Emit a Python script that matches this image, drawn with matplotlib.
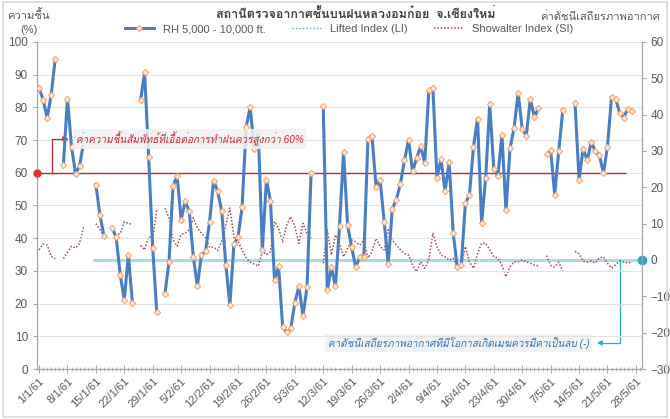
import numpy as np
import matplotlib
matplotlib.use('Agg')
import matplotlib.pyplot as plt
from matplotlib import font_manager
from fontTools.ttLib import TTFont

# daily values 1/1/61 .. 29/5/61, None = no sounding
rh = [86, 82.4, 76.8, 83.9, 94.9, None, 62.5, 82.7, 67.9, 59.7,
      62.2, 69.5, None, None, 56.4, 47, 40.7, None, 43.1, 40.3,
      28.8, 21.2, 35, 20.2, None, 82.2, 90.7, 64.7, 37, 17.3,
      None, 22.9, 32.6, 55.9, 59.1, 45.7, 51.3, 48.2, 34.3, 25.3,
      35, 36, 45, 57.6, 54.3, 48.2, 31.9, 19.5, 38.2, 40.3,
      49.4, 73.9, 80.1, 67.3, 72.4, 36.3, 57.9, 51.3, 27.1, 31.4,
      12.8, 11.2, 12.5, 20.2, 25.3, 16.3, 25, 59.9, None, None,
      80.3, 24.1, 31.1, 25.3, 43.6, 66.3, 43.9, 37.2, 31.1, 34.3,
      34.4, 70.4, 71.4, 55.7, 57.9, 45.1, 32.1, 48.9, 51.8, 56.6,
      63.8, 70.1, 60.4, 64.5, 68.1, 63, 85.2, 85.9, 58.4, 64.2,
      54.3, 63.3, 41.6, 31.1, 31.8, 50.7, 53.2, 68, 76.6, 44.6,
      58.4, 81.1, 61.2, 58.9, 71.5, 48.5, 67.6, 73.7, 84.5, 73.4,
      71.4, 82.6, 77, 79.8, None, 65.6, 66.9, 53.3, 66.7, 79.3,
      None, None, 81.3, 57.9, 67.4, 63.8, 69.4, 66.6, 65.4, 59.9,
      68, 83.2, 82.7, 78.3, 76.9, 79.6, 79, None, None]

si = [2.8, 4.4, 4.1, 1.0, 0.3, None, 0.4, 2.1, 3.8, 3.3,
      4.6, 9.2, None, None, 10, 8.4, 6.6, None, 8.7, 6.8,
      7.3, 10.5, 10.1, 9.8, None, 4, 2.8, 6.4, 6, 13.8,
      None, 14.3, 11.6, 5.6, 3.8, 7, 7.4, 8.3, 11.6, 8.8,
      7.4, 6.1, 3.5, 3.5, 2.6, 5.2, 9.7, 14.3, 6.3, 5.2,
      2.8, 0.6, -0.6, -1.1, -1.7, 2.4, 1.5, 2.3, 10.6, 8.7,
      5, 9.6, 11.9, 9.2, 4.6, 10.1, 7.3, 6, None, None,
      -0.9, 8.3, 1.4, 6.9, 4.6, 0.9, 3.2, 5.5, 5, 4.1,
      5.5, 0.5, 2.3, 6, 3.7, 2.8, 8.3, 5.5, 4.1, 2.8,
      1.8, 1.4, -1.4, -3.2, -0.5, -2.3, 0, 7.3, 3.7, 1.4,
      0.9, 0, 0.5, -1.8, -1.4, 3.7, -0.5, -2.3, 1.8, 4.6,
      4.6, 2.8, 0.9, 0.5, -1.4, -4.6, -1.8, -0.5, -0.5, 0,
      -0.5, -0.9, -1.4, -1.6, None, 1.2, -1.5, -1.9, -0.6, -3.1,
      None, None, 2.4, 1.7, -0.3, -0.6, -0.3, -0.8, 0.6, 0.8,
      -0.9, -2.2, -1.3, -0.3, -0.5, -0.9, -0.5, None, None]

li = []  # no LI values shown on the chart

tick_labels = ['1/1/61', '8/1/61', '15/1/61', '22/1/61', '29/1/61', '5/2/61',
               '12/2/61', '19/2/61', '26/2/61', '5/3/61', '12/3/61', '19/3/61',
               '26/3/61', '2/4/61', '9/4/61', '16/4/61', '23/4/61', '30/4/61',
               '7/5/61', '14/5/61', '21/5/61', '28/5/61']

rh_limit = 60     # RH that favours rain making
si_limit = 0      # stability index should be below this


def thai_family():
    for f in font_manager.fontManager.ttflist:
        try:
            cmap = TTFont(f.fname, fontNumber=0, lazy=True).getBestCmap()
        except Exception:
            continue
        if cmap and 0x0E01 in cmap:
            return f.name
    return None


fam = thai_family()
plt.rcParams['font.family'] = ['Liberation Sans', fam, 'DejaVu Sans'] if fam else ['Liberation Sans', 'DejaVu Sans']

rh = np.array([np.nan if v is None else v for v in rh], dtype=float)
si = np.array([np.nan if v is None else v for v in si], dtype=float)
x = np.arange(len(rh))

grey = '#595959'
fig = plt.figure(figsize=(6.7, 4.19), dpi=100)
fig.patches.append(plt.Rectangle((0.004, 0.005), 0.992, 0.99, transform=fig.transFigure,
                                 fill=False, edgecolor='#D9D9D9', lw=1.2))
ax = fig.add_axes([37 / 670, 1 - 369 / 419, 605 / 670, 327 / 419])
ax2 = ax.twinx()
ax.set_zorder(ax2.get_zorder() + 1)
ax.patch.set_visible(False)

ax.plot(x, rh, color='#4A7EC4', lw=2.2, marker='D', ms=3.2, mfc='#FDE5D2',
        mec='#F2A468', mew=0.7, zorder=4, label='RH 5,000 - 10,000 ft.')
ax2.plot(x[:len(li)], li, color='#4BACC6', lw=1, ls=(0, (1, 1.5)), label='Lifted Index (LI)')
ax2.plot(x, si, color='#A24B60', lw=1.1, ls=(0, (1, 1.2)), label='Showalter Index (SI)')

ax.set_xlim(-0.5, len(rh) - 0.5)
ax.set_ylim(0, 100)
ax2.set_ylim(-30, 60)
ax.set_yticks(np.arange(0, 101, 10))
ax2.set_yticks(np.arange(-30, 61, 10))
ax.grid(axis='y', color='#E3E3E3', lw=0.8)
ax.set_axisbelow(True)

ax.set_xticks(np.arange(0, len(rh), 7))
ax.set_xticklabels(tick_labels, rotation=45, ha='right', rotation_mode='anchor')
ax.set_xticks(x, minor=True)
ax.tick_params(axis='x', which='major', direction='inout', length=6, width=0.8,
               color='#A6A6A6', labelsize=8, labelcolor=grey, pad=2)
ax.tick_params(axis='x', which='minor', direction='inout', length=3, width=0.6, color='#A6A6A6')
ax.tick_params(axis='y', direction='out', length=3, color='#A6A6A6', labelsize=8.5, labelcolor=grey)
ax2.tick_params(axis='y', direction='out', length=3, color='#A6A6A6', labelsize=8.5,
                labelcolor=grey, pad=3)

for a in (ax, ax2):
    a.spines['top'].set_visible(False)
    for s in ('left', 'right', 'bottom'):
        a.spines[s].set_color('#A6A6A6')

# red note: RH above 60%
ax.hlines(rh_limit, -0.5, 144.6, color='#C0272D', lw=1, zorder=3)
ax.plot([-0.5], [rh_limit], 'o', color='#E0313A', ms=5, clip_on=False, zorder=6)
ax.annotate('', xy=(7.2, 70.4), xytext=(3.3, rh_limit),
            arrowprops=dict(arrowstyle='-|>', color='#C0272D', lw=0.9, shrinkA=0, shrinkB=0,
                            mutation_scale=7, connectionstyle='angle,angleA=90,angleB=0,rad=0'))
ax.text(9.0, 70.4, 'ค่าความชื้นสัมพัทธ์ที่เอื้อต่อการทำฝนควรสูงกว่า 60%', color='#D9232D',
        fontsize=7.2, style='italic', va='center', ha='left', zorder=10,
        bbox=dict(facecolor='#F2F2F2', edgecolor='none', pad=2, alpha=0.85))

# blue note: stability index negative
ax2.hlines(si_limit, 13.3, len(rh) - 0.5, color='#A9DCE6', lw=2.2, zorder=1)
ax2.plot([len(rh) - 0.5], [si_limit], 'o', color='#2AAAC9', ms=6, clip_on=False, zorder=6)
ax2.annotate('', xy=(137.4, -22.8), xytext=(143.0, si_limit),
             arrowprops=dict(arrowstyle='-|>', color='#2AAAC9', lw=0.9, shrinkA=0, shrinkB=0,
                             mutation_scale=7, connectionstyle='angle,angleA=-90,angleB=0,rad=0'))
ax2.text(135.6, -22.8, 'ค่าดัชนีเสถียรภาพอากาศที่มีโอกาสเกิดเมฆควรมีค่าเป็นลบ (-)', color='#2E74B5',
         fontsize=7.2, style='italic', va='center', ha='right',
         bbox=dict(facecolor='#F2F2F2', edgecolor='none', pad=2))

fig.text(0.531, 1 - 14 / 419, 'สถานีตรวจอากาศชั้นบนฝนหลวงอมก๋อย  จ.เชียงใหม่', ha='center', va='center',
         fontsize=9, fontweight='bold', color='#404040')
fig.text(28 / 670, 1 - 15 / 419, 'ความชื้น', ha='center', va='center', fontsize=8, color=grey)
fig.text(29 / 670, 1 - 30 / 419, '(%)', ha='center', va='center', fontsize=8, color=grey)
fig.text(600 / 670, 1 - 17 / 419, 'ค่าดัชนีเสถียรภาพอากาศ', ha='center', va='center', fontsize=8, color=grey)

h1, l1 = ax.get_legend_handles_labels()
h2, l2 = ax2.get_legend_handles_labels()
fig.legend(h1 + h2, l1 + l2, loc='center', bbox_to_anchor=(0.521, 1 - 29 / 419), ncol=3,
           frameon=False, fontsize=8, handlelength=2.6, columnspacing=2.4, labelcolor=grey)

fig.savefig('out.png', dpi=100)
